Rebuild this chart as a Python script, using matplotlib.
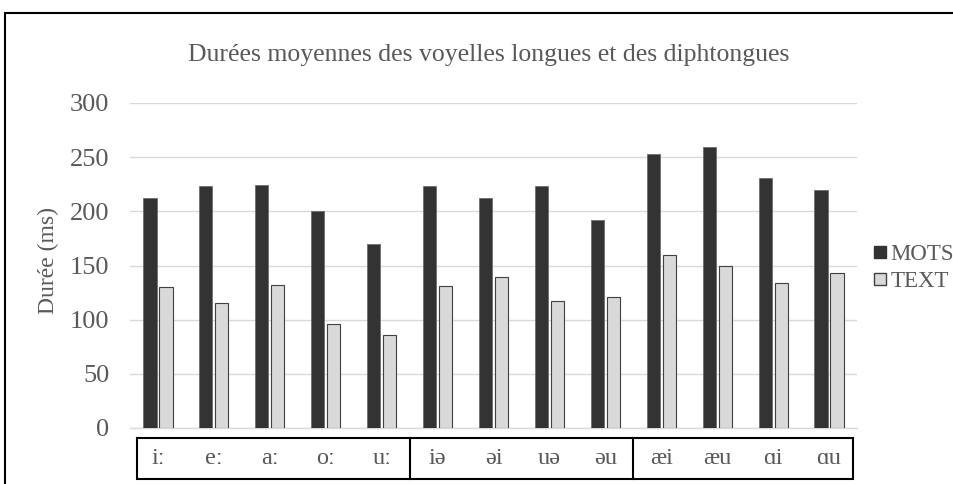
import matplotlib
matplotlib.use("Agg")
import matplotlib.pyplot as plt
import numpy as np
from matplotlib.patches import Rectangle
from matplotlib.lines import Line2D

plt.rcParams['font.family'] = ['Liberation Serif', 'DejaVu Serif']

vowels = ['iː', 'eː', 'aː', 'oː', 'uː', 'iə', 'əi', 'uə', 'əu', 'æi', 'æu', 'ɑi', 'ɑu']
mots = [212, 223, 224, 200, 170, 223, 212, 223, 192, 253, 259, 231, 220]
text = [130, 115, 132, 96, 86, 131, 139, 117, 121, 160, 150, 134, 143]
yticks = [0, 50, 100, 150, 200, 250, 300]

grey_txt = '#595959'
W, H = 954, 484

fig = plt.figure(figsize=(W / 100, H / 100), dpi=100)

# outer chart frame
fig.patches.append(Rectangle((5 / W, -0.05), 1.2, (H - 13) / H + 0.05,
                             transform=fig.transFigure, fill=False,
                             edgecolor='black', linewidth=1.5))

ax = fig.add_axes([130 / W, (H - 428) / H, 727 / W, 325 / H])
x = np.arange(len(vowels))
bw = 0.235
ax.bar(x - 0.143, mots, bw, color='#333333', edgecolor='#6e6e6e', linewidth=0.6, zorder=3)
ax.bar(x + 0.143, text, bw, color='#d9d9d9', edgecolor='#404040', linewidth=0.8, zorder=3)

ax.set_xlim(-0.5, len(vowels) - 0.5)
ax.set_ylim(0, 300)
ax.set_yticks(yticks)
ax.set_xticks([])
ax.tick_params(axis='y', length=0, pad=15, labelsize=19, labelcolor=grey_txt)
ax.grid(axis='y', color='#d9d9d9', linewidth=1, zorder=0)
for s in ['top', 'right', 'left']:
    ax.spines[s].set_visible(False)
ax.spines['bottom'].set_color('#d9d9d9')
ax.spines['bottom'].set_linewidth(1)

ax.set_ylabel('Durée (ms)', fontsize=17, color=grey_txt)
ax.yaxis.set_label_coords(-(130 - 59) / 727, 0.5 - (260 - 265.5) / 325)

fig.text(489 / W, (H - 55) / H, 'Durées moyennes des voyelles longues et des diphtongues',
         ha='center', va='center', fontsize=18.5, color=grey_txt)

# category box under the bars
box = fig.add_axes([130 / W, (H - 479) / H, 727 / W, 41.5 / H])
box.set_xlim(-0.5, len(vowels) - 0.5)
box.set_ylim(0, 1)
box.axis('off')
box.add_patch(Rectangle((-0.375, 0), 12.43 + 0.375, 1, fill=False,
                        edgecolor='black', linewidth=1.5, clip_on=False))
for d in [4.5, 8.5]:
    box.plot([d, d], [0, 1], color='black', linewidth=1.5, clip_on=False)
for i, v in enumerate(vowels):
    box.text(i, 0.5, v, ha='center', va='center', fontsize=17.5, color=grey_txt)

handles = [
    Line2D([], [], marker='s', linestyle='none', markersize=8,
           markerfacecolor='#333333', markeredgecolor='#333333'),
    Line2D([], [], marker='s', linestyle='none', markersize=8,
           markerfacecolor='#d9d9d9', markeredgecolor='#404040'),
]
fig.legend(handles, ['MOTS', 'TEXT'], loc='center left',
           bbox_to_anchor=(862 / W, (H - 268) / H), frameon=False,
           fontsize=16.5, labelcolor=grey_txt, handlelength=0.6,
           handletextpad=0.15, labelspacing=0.3, borderpad=0)

fig.savefig('out.png', dpi=100)
